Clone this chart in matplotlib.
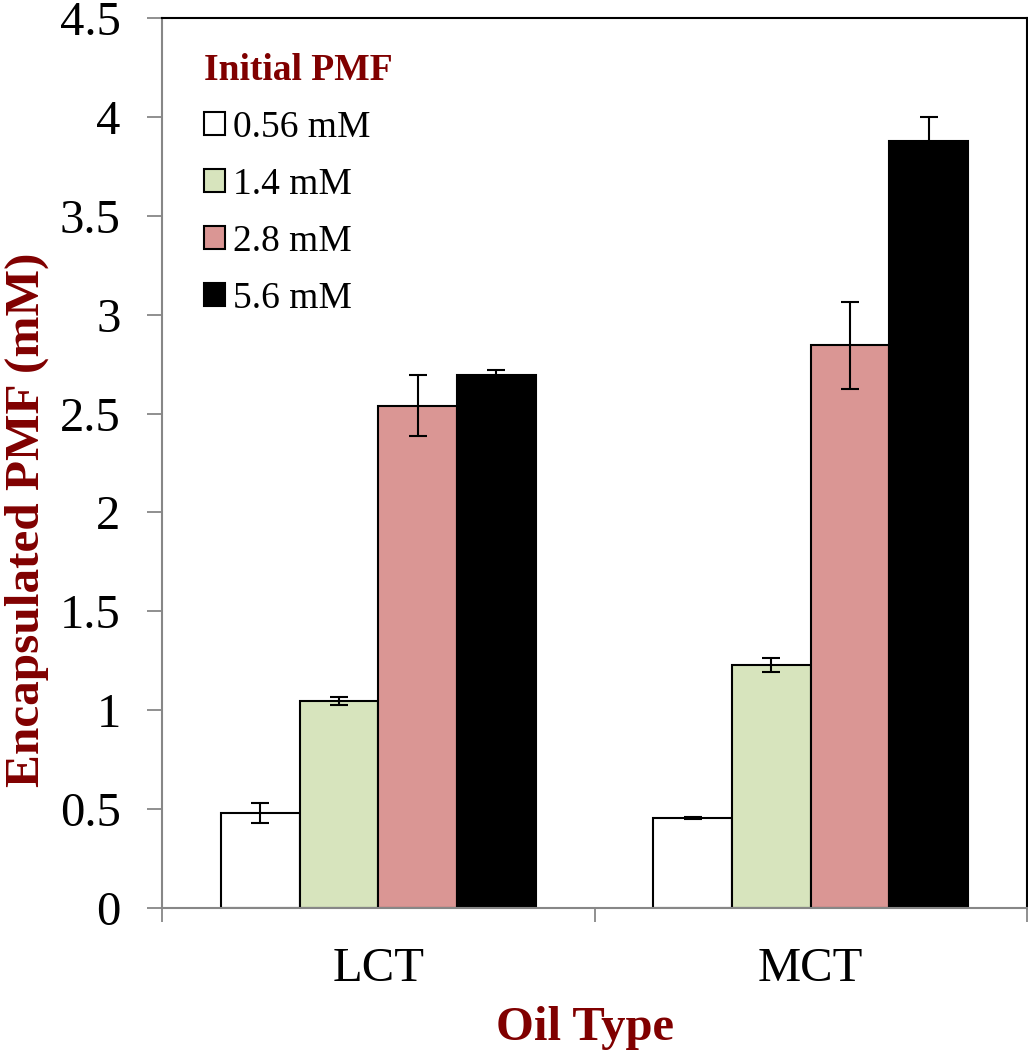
import matplotlib
matplotlib.use("Agg")
import matplotlib.pyplot as plt
import numpy as np

categories = ["LCT", "MCT"]
series_labels = ["0.56 mM", "1.4 mM", "2.8 mM", "5.6 mM"]
values = {
    "0.56 mM": [0.48, 0.455],
    "1.4 mM": [1.046, 1.228],
    "2.8 mM": [2.54, 2.845],
    "5.6 mM": [2.697, 3.88],
}
errors = {
    "0.56 mM": [0.05, 0.005],
    "1.4 mM": [0.02, 0.035],
    "2.8 mM": [0.155, 0.22],
    "5.6 mM": [0.025, 0.12],
}
colors = ["#FFFFFF", "#D7E4BD", "#DA9694", "#000000"]
yticks = [0, 0.5, 1, 1.5, 2, 2.5, 3, 3.5, 4, 4.5]
ytick_labels = ["0", "0.5", "1", "1.5", "2", "2.5", "3", "3.5", "4", "4.5"]

plt.rcParams['font.family'] = ['Liberation Serif', 'DejaVu Serif']
dark_red = "#800000"
gray = "#878787"

fig = plt.figure(figsize=(10.28, 10.5), dpi=100)
ax = fig.add_axes([162/1028, 1-908/1050, 865/1028, 890/1050])

x = np.arange(len(categories))
w = 0.182
offsets = (np.arange(len(series_labels)) - 1.5) * w
handles = []
for i, s in enumerate(series_labels):
    b = ax.bar(x + offsets[i], values[s], w, color=colors[i], edgecolor="black",
               linewidth=1.5, label=s, zorder=2,
               yerr=errors[s], capsize=6.5,
               error_kw=dict(ecolor="black", elinewidth=1.5, capthick=1.5, zorder=3))
    handles.append(b)

ax.set_xlim(-0.5, 1.5)
ax.set_ylim(0, 4.5)
ax.set_yticks(yticks)
ax.set_yticklabels(ytick_labels)
ax.set_xticks(x)
ax.set_xticklabels(categories)
ax.set_xticks([-0.5, 0.5, 1.5], minor=True)

ax.tick_params(axis='y', which='major', direction='out', length=10.8, width=1.3,
               color=gray, labelsize=35, pad=19)
ax.tick_params(axis='x', which='major', length=0, labelsize=35, pad=28)
ax.tick_params(axis='x', which='minor', direction='out', length=10, width=1.3, color=gray)

for side in ["left", "bottom"]:
    ax.spines[side].set_color(gray)
    ax.spines[side].set_linewidth(1.5)
for side in ["top", "right"]:
    ax.spines[side].set_color("black")
    ax.spines[side].set_linewidth(1.5)

ax.set_ylabel("Encapsulated PMF (mM)", fontsize=35.5, fontweight="bold", color=dark_red)
ax.yaxis.set_label_coords(-0.131, 0.436)
ax.set_xlabel("Oil Type", fontsize=35, fontweight="bold", color=dark_red, labelpad=11)
ax.xaxis.label.set_x(0.489)

leg = ax.legend(handles=handles, labels=series_labels, title="Initial PMF",
                loc="upper left", bbox_to_anchor=(42/865, 1-35/890), frameon=False,
                fontsize=27, title_fontproperties={'size': 27, 'weight': 'bold'},
                alignment='left', handlelength=0.55, handleheight=0.55,
                handletextpad=0.22, labelspacing=0.6, borderaxespad=0, borderpad=0)
leg.get_title().set_color(dark_red)
for p in leg.get_patches():
    p.set_linewidth(1.5)

fig.savefig("out.png", dpi=100)
